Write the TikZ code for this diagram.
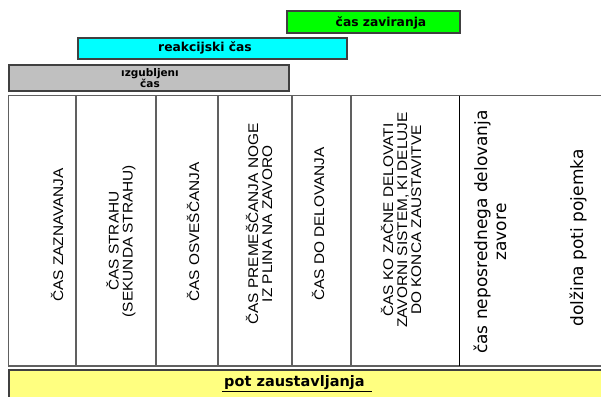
\documentclass[tikz,border=0pt]{standalone}
\usepackage{fontspec}
\setmainfont{DejaVu Sans}
\newfontfamily\colfont[FakeStretch=1.1]{Liberation Sans}
\newfontfamily\boxfont{DejaVu Sans}
\definecolor{lightyel}{HTML}{FFFF80}
\definecolor{gbox}{HTML}{C0C0C0}
\definecolor{cyanbox}{HTML}{00FFFF}
\definecolor{greenbox}{HTML}{00FF00}
\definecolor{linegray}{HTML}{606060}
\definecolor{edgegray}{HTML}{404040}
\tikzset{
  barbox/.style={draw=edgegray, line width=1.2pt, inner sep=0pt},
  bartext/.style={font=\boxfont\bfseries\fontsize{12.3}{12}\selectfont, inner sep=0pt, text=black},
  coltext/.style={rotate=90, align=center, inner sep=0pt, font=\colfont\fontsize{14}{14}\selectfont},
  lowtext/.style={rotate=90, align=center, inner sep=0pt, font=\fontsize{17}{19}\selectfont},
  tabline/.style={draw=linegray, line width=1.3pt},
}
\begin{document}
\begin{tikzpicture}[x=1pt,y=-1pt]
\useasboundingbox (0,0) rectangle (601,396);
% top bars
\path[barbox, fill=greenbox] (287,11) rectangle (460,33);
\node[bartext] (zav) at (381,23) {čas zaviranja};
\path[barbox, fill=cyanbox] (78,38) rectangle (347,59);
\node[bartext] (reak) at (205,48) {reakcijski čas};
\path[barbox, fill=gbox] (9,65) rectangle (289,91);
\node[bartext, align=center, font=\boxfont\bfseries\fontsize{10.5}{10.5}\selectfont] (izg) at (150,78) {ızgubljenı\\čas};
% table
\draw[tabline] (610,95.5) -- (8.5,95.5) -- (8.5,366) -- (610,366);
\foreach \cx in {76,156,218,292,351}{
  \draw[tabline] (\cx,95.5) -- (\cx,366);
}
\draw[black, line width=1pt] (459,95.5) -- (459,366);
% column texts
\node[coltext] (c1) at (57,235) {ČAS ZAZNAVANJA};
\node[coltext] (c2) at (121,241) {ČAS STRAHU\\(SEKUNDA STRAHU)};
\node[coltext] (c3) at (193,232) {ČAS OSVEŠČANJA};
\node[coltext] (c4) at (259,224) {ČAS PREMEŠČANJA NOGE\\IZ PLINA NA ZAVORO};
\node[coltext] (c5) at (318,224) {ČAS DO DELOVANJA};
\node[coltext] (c6) at (401,220) {ČAS KO ZAČNE DELOVATI\\ZAVORNI SISTEM, KI DELUJE\\DO KONCA ZAUSTAVITVE};
\node[lowtext] (c7) at (490,232) {čas neposrednega delovanja\\zavore};
\node[lowtext] (c8) at (578,238) {dolžina poti pojemka};
% bottom bar
\path[barbox, fill=lightyel] (9,370) rectangle (610,400);
\node[inner sep=0pt, font=\bfseries\fontsize{14.5}{16}\selectfont] (pot) at (297,384) {\underline{\,pot zaustavljanja\ \,}};
\end{tikzpicture}
\end{document}
